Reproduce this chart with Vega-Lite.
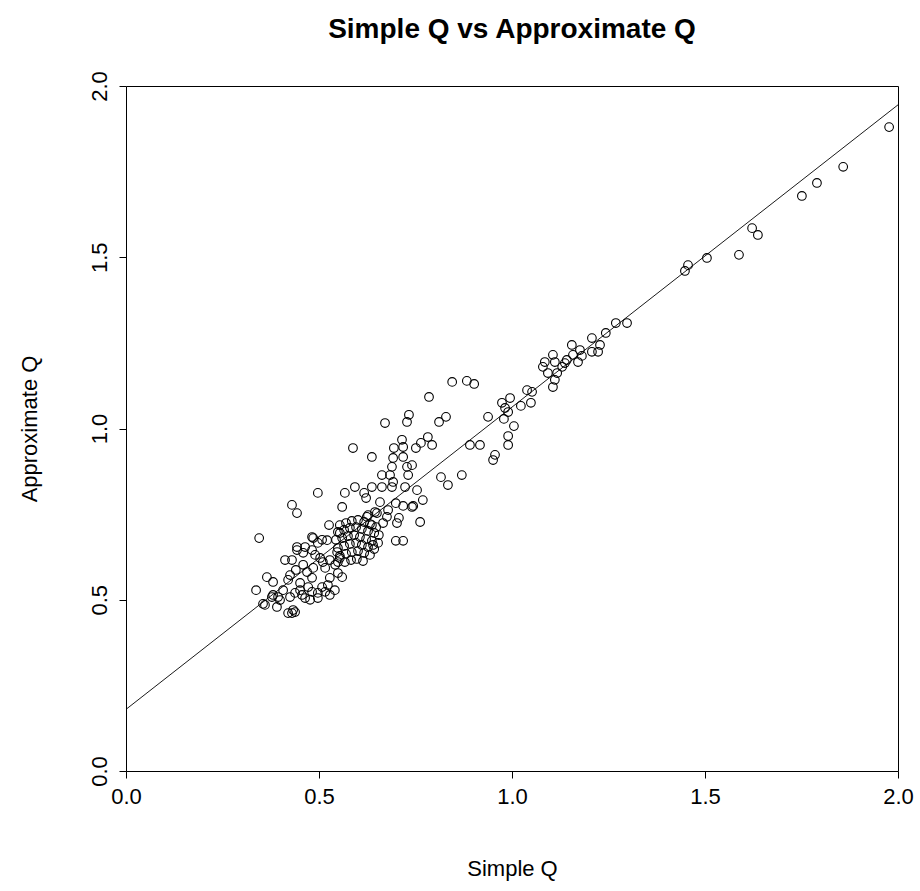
{
  "$schema": "https://vega.github.io/schema/vega-lite/v6.json",
  "width": 772,
  "height": 685,
  "autosize": {"type": "none"},
  "padding": {"left": 126, "top": 86, "right": 22, "bottom": 120},
  "background": "white",
  "title": {"text": "Simple Q vs Approximate Q", "font": "Liberation Sans", "fontSize": 28, "fontWeight": "bold", "color": "#000", "anchor": "middle", "offset": 27},
  "config": {
    "view": {"stroke": "#000", "strokeWidth": 1},
    "axis": {"grid": false, "domain": false, "labelFlush": false, "tickColor": "#000", "tickSize": 7, "labelFont": "Liberation Sans", "labelFontSize": 22, "labelColor": "#000", "titleFont": "Liberation Sans", "titleFontSize": 22, "titleFontWeight": "normal", "titleColor": "#000"}
  },
  "datasets": {
    "pts": [
      {"sq":1.977,"aq":1.880},{"sq":1.858,"aq":1.764},{"sq":1.790,"aq":1.717},{"sq":1.751,"aq":1.679},{"sq":1.622,"aq":1.585},{"sq":1.637,"aq":1.565},{"sq":1.588,"aq":1.507},{"sq":1.505,"aq":1.498},{"sq":1.456,"aq":1.477},{"sq":1.448,"aq":1.460},{"sq":1.298,"aq":1.308},{"sq":1.269,"aq":1.308},{"sq":1.243,"aq":1.279},
      {"sq":1.207,"aq":1.264},{"sq":1.228,"aq":1.244},{"sq":1.207,"aq":1.224},{"sq":1.223,"aq":1.224},{"sq":1.176,"aq":1.229},{"sq":1.181,"aq":1.212},{"sq":1.171,"aq":1.194},{"sq":1.155,"aq":1.244},{"sq":1.158,"aq":1.215},{"sq":1.137,"aq":1.191},{"sq":1.130,"aq":1.180},{"sq":1.111,"aq":1.194},{"sq":1.106,"aq":1.215},{"sq":1.085,"aq":1.194},{"sq":1.080,"aq":1.180},{"sq":1.093,"aq":1.162},{"sq":1.117,"aq":1.162},{"sq":1.111,"aq":1.142},{"sq":1.106,"aq":1.121},{"sq":1.142,"aq":1.200},
      {"sq":1.052,"aq":1.107},{"sq":1.049,"aq":1.075},{"sq":1.039,"aq":1.112},{"sq":1.023,"aq":1.066},{"sq":0.995,"aq":1.089},{"sq":0.974,"aq":1.075},{"sq":0.982,"aq":1.060},{"sq":0.990,"aq":1.048},{"sq":0.979,"aq":1.028},{"sq":0.938,"aq":1.034},{"sq":1.005,"aq":1.007},{"sq":0.990,"aq":0.978},{"sq":0.990,"aq":0.952},{"sq":0.956,"aq":0.923},{"sq":0.951,"aq":0.908},{"sq":0.917,"aq":0.952},{"sq":0.891,"aq":0.952},{"sq":0.870,"aq":0.864},{"sq":0.834,"aq":0.835},{"sq":0.816,"aq":0.858},
      {"sq":0.902,"aq":1.130},{"sq":0.883,"aq":1.139},{"sq":0.845,"aq":1.136},{"sq":0.785,"aq":1.092},{"sq":0.829,"aq":1.034},{"sq":0.811,"aq":1.019},{"sq":0.733,"aq":1.040},{"sq":0.728,"aq":1.019},{"sq":0.782,"aq":0.975},{"sq":0.793,"aq":0.952},{"sq":0.764,"aq":0.958},{"sq":0.751,"aq":0.943},{"sq":0.762,"aq":0.727},{"sq":0.718,"aq":0.672},{"sq":0.699,"aq":0.672},
      {"sq":0.671,"aq":1.016},{"sq":0.715,"aq":0.967},{"sq":0.694,"aq":0.943},{"sq":0.718,"aq":0.946},{"sq":0.588,"aq":0.943},{"sq":0.637,"aq":0.917},{"sq":0.692,"aq":0.914},{"sq":0.718,"aq":0.917},{"sq":0.728,"aq":0.888},{"sq":0.741,"aq":0.893},{"sq":0.731,"aq":0.864},{"sq":0.689,"aq":0.888},{"sq":0.663,"aq":0.864},{"sq":0.684,"aq":0.864},{"sq":0.692,"aq":0.844},{"sq":0.593,"aq":0.829},{"sq":0.637,"aq":0.829},{"sq":0.663,"aq":0.829},{"sq":0.689,"aq":0.829},{"sq":0.723,"aq":0.829},{"sq":0.754,"aq":0.820},{"sq":0.567,"aq":0.812},{"sq":0.617,"aq":0.812},{"sq":0.622,"aq":0.797},{"sq":0.497,"aq":0.812},{"sq":0.430,"aq":0.777},{"sq":0.443,"aq":0.753},{"sq":0.560,"aq":0.771},{"sq":0.658,"aq":0.785},{"sq":0.699,"aq":0.782},{"sq":0.718,"aq":0.774},{"sq":0.744,"aq":0.774},{"sq":0.769,"aq":0.791},{"sq":0.624,"aq":0.742},{"sq":0.650,"aq":0.753},{"sq":0.676,"aq":0.742},{"sq":0.637,"aq":0.718},{"sq":0.666,"aq":0.724},{"sq":0.702,"aq":0.724},{"sq":0.707,"aq":0.739},
      {"sq":0.526,"aq":0.718},{"sq":0.345,"aq":0.680},{"sq":0.554,"aq":0.695},{"sq":0.482,"aq":0.683},{"sq":0.521,"aq":0.674},{"sq":0.497,"aq":0.666},{"sq":0.412,"aq":0.616},{"sq":0.430,"aq":0.616},{"sq":0.365,"aq":0.566},{"sq":0.381,"aq":0.552},{"sq":0.337,"aq":0.528},{"sq":0.381,"aq":0.514},{"sq":0.394,"aq":0.508},{"sq":0.355,"aq":0.488},{"sq":0.391,"aq":0.479},{"sq":0.425,"aq":0.508},{"sq":0.438,"aq":0.520},{"sq":0.430,"aq":0.461},{"sq":0.438,"aq":0.464},{"sq":0.459,"aq":0.637},{"sq":0.482,"aq":0.645},{"sq":0.443,"aq":0.654},{"sq":0.528,"aq":0.616},{"sq":0.549,"aq":0.578},{"sq":0.560,"aq":0.566},
      {"sq":0.554,"aq":0.718},{"sq":0.570,"aq":0.724},{"sq":0.585,"aq":0.730},{"sq":0.601,"aq":0.733},{"sq":0.617,"aq":0.727},{"sq":0.632,"aq":0.721},{"sq":0.648,"aq":0.712},{"sq":0.549,"aq":0.698},{"sq":0.565,"aq":0.704},{"sq":0.580,"aq":0.710},{"sq":0.596,"aq":0.712},{"sq":0.611,"aq":0.707},{"sq":0.627,"aq":0.701},{"sq":0.643,"aq":0.695},{"sq":0.655,"aq":0.689},{"sq":0.544,"aq":0.675},{"sq":0.560,"aq":0.680},{"sq":0.575,"aq":0.686},{"sq":0.591,"aq":0.689},{"sq":0.606,"aq":0.683},{"sq":0.622,"aq":0.677},{"sq":0.637,"aq":0.672},{"sq":0.653,"aq":0.666},{"sq":0.549,"aq":0.651},{"sq":0.565,"aq":0.657},{"sq":0.580,"aq":0.663},{"sq":0.596,"aq":0.666},{"sq":0.611,"aq":0.660},{"sq":0.627,"aq":0.654},{"sq":0.643,"aq":0.648},{"sq":0.554,"aq":0.628},{"sq":0.570,"aq":0.634},{"sq":0.585,"aq":0.639},{"sq":0.601,"aq":0.642},{"sq":0.617,"aq":0.637},{"sq":0.632,"aq":0.631},{"sq":0.567,"aq":0.610},{"sq":0.583,"aq":0.616},{"sq":0.598,"aq":0.619},{"sq":0.614,"aq":0.613},
      {"sq":0.679,"aq":0.762},{"sq":0.741,"aq":0.771},{"sq":0.645,"aq":0.756},{"sq":0.627,"aq":0.747},{"sq":0.640,"aq":0.660},{"sq":0.547,"aq":0.639},{"sq":0.549,"aq":0.610},
      {"sq":0.485,"aq":0.680},{"sq":0.508,"aq":0.675},{"sq":0.464,"aq":0.654},{"sq":0.443,"aq":0.645},{"sq":0.490,"aq":0.631},{"sq":0.503,"aq":0.622},{"sq":0.510,"aq":0.610},{"sq":0.542,"aq":0.602},{"sq":0.420,"aq":0.558},{"sq":0.451,"aq":0.549},{"sq":0.482,"aq":0.564},{"sq":0.472,"aq":0.537},{"sq":0.508,"aq":0.537},{"sq":0.523,"aq":0.543},{"sq":0.456,"aq":0.514},{"sq":0.482,"aq":0.523},{"sq":0.497,"aq":0.520},{"sq":0.516,"aq":0.523},{"sq":0.378,"aq":0.508},{"sq":0.360,"aq":0.485},{"sq":0.420,"aq":0.461},{"sq":0.433,"aq":0.470},{"sq":0.469,"aq":0.581},{"sq":0.485,"aq":0.593},{"sq":0.516,"aq":0.593},{"sq":0.528,"aq":0.564},{"sq":0.459,"aq":0.602},{"sq":0.554,"aq":0.622},
      {"sq":0.464,"aq":0.505},{"sq":0.477,"aq":0.500},{"sq":0.451,"aq":0.528},{"sq":0.497,"aq":0.505},{"sq":0.528,"aq":0.514},{"sq":0.541,"aq":0.528},{"sq":0.440,"aq":0.587},{"sq":0.425,"aq":0.572},{"sq":0.407,"aq":0.528},{"sq":0.399,"aq":0.499}
    ],
    "fit": [{"sq": 0, "aq": 0.18}, {"sq": 2, "aq": 1.945}]
  },
  "layer": [
    {
      "data": {"name": "fit"},
      "mark": {"type": "line", "color": "#000", "strokeWidth": 0.9},
      "encoding": {
        "x": {"field": "sq", "type": "quantitative"},
        "y": {"field": "aq", "type": "quantitative"}
      }
    },
    {
      "data": {"name": "pts"},
      "mark": {"type": "point", "shape": "circle", "filled": false, "stroke": "#000", "strokeWidth": 1.1, "size": 75, "opacity": 1},
      "encoding": {
        "x": {"field": "sq", "type": "quantitative", "scale": {"domain": [0, 2], "nice": false}, "axis": {"title": "Simple Q", "values": [0, 0.5, 1, 1.5, 2], "format": ".1f", "labelPadding": 8, "titlePadding": 51}},
        "y": {"field": "aq", "type": "quantitative", "scale": {"domain": [0, 2], "nice": false}, "axis": {"title": "Approximate Q", "values": [0, 0.5, 1, 1.5, 2], "format": ".1f", "labelAngle": -90, "labelAlign": "center", "labelBaseline": "bottom", "labelPadding": 8, "titlePadding": 47}}
      }
    }
  ]
}
